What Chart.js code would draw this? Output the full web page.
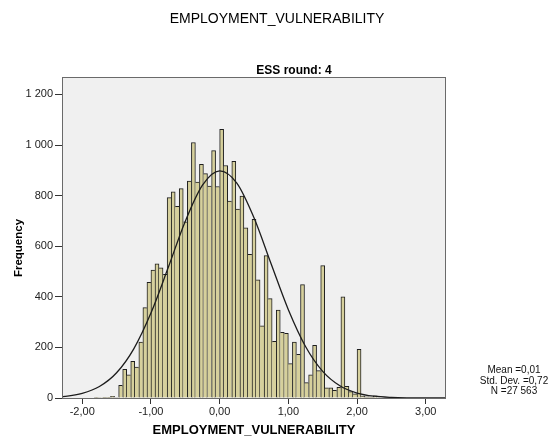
<!DOCTYPE html>
<html>
<head>
<meta charset="utf-8">
<script src="https://cdn.jsdelivr.net/npm/chart.js@4"></script>
<style>
  html, body { margin: 0; padding: 0; background: #ffffff; }
  #wrap { width: 554px; height: 438px; position: relative; }
</style>
</head>
<body>
<div id="wrap"><canvas id="c" width="554" height="438"></canvas></div>
<script>
// ---- Data ----
const chartTitle = "EMPLOYMENT_VULNERABILITY";
const panelTitle = "ESS round: 4";
const xAxisTitle = "EMPLOYMENT_VULNERABILITY";
const yAxisTitle = "Frequency";
const statsLines = ["Mean =0,01", "Std. Dev. =0,72", "N =27 563"];

// histogram bin centres
const binCenters = [
  -1.794, -1.735, -1.676, -1.618, -1.559, -1.500, -1.441, -1.382, -1.324, -1.265,
  -1.206, -1.147, -1.088, -1.029, -0.971, -0.912, -0.853, -0.794, -0.735, -0.676,
  -0.618, -0.559, -0.500, -0.441, -0.382, -0.324, -0.265, -0.206, -0.147, -0.088,
  -0.029, 0.029, 0.088, 0.147, 0.206, 0.265, 0.324, 0.382, 0.441, 0.500,
  0.559, 0.618, 0.676, 0.735, 0.794, 0.853, 0.912, 0.971, 1.029, 1.088,
  1.147, 1.206, 1.265, 1.324, 1.382, 1.441, 1.500, 1.559, 1.618, 1.676,
  1.735, 1.794, 1.853, 1.912, 1.971, 2.029, 2.088, 2.147, 2.206, 2.265,
  2.324
];
// frequencies
const binCounts = [
  3, 2, 1, 1, 7, 2, 50, 113, 92, 145,
  122, 221, 357, 457, 506, 530, 515, 489, 792, 815,
  758, 828, 696, 858, 1010, 854, 924, 887, 838, 978,
  836, 1062, 919, 778, 936, 747, 798, 673, 568, 706,
  467, 285, 563, 393, 224, 348, 260, 256, 136, 221,
  173, 448, 61, 92, 208, 108, 523, 40, 40, 30,
  42, 400, 46, 25, 16, 192, 8, 5, 4, 9,
  2
];

// normal curve points
const curveX = [-2.5, -2.25, -2.0, -1.75, -1.5, -1.25, -1.0, -0.75, -0.5, -0.25, 0.0,
                0.25, 0.5, 0.75, 1.0, 1.25, 1.5, 1.75, 2.0, 2.25, 2.5, 2.75, 3.0, 3.25, 3.5];
const curveY = [2.1, 6.5, 18.2, 45.2, 99.6, 194.3, 335.7, 514.5, 698.8, 841.4, 897.9,
                849.4, 712.4, 529.6, 349.0, 203.8, 105.5, 48.4, 19.7, 7.1, 2.3, 0.6, 0.2, 0.0, 0.0];

const xTickValues = [-2, -1, 0, 1, 2, 3];
const xTickLabels = ["-2,00", "-1,00", "0,00", "1,00", "2,00", "3,00"];
const yTickValues = [0, 200, 400, 600, 800, 1000, 1200];
const yTickLabels = ["0", "200", "400", "600", "800", "1 000", "1 200"];

const xMin = -2.28, xMax = 3.28;
const yMin = 0, yMax = 1265;

// ---- Build ----
const FONT = "'Liberation Sans', Arial, Helvetica, sans-serif";
const barData = binCenters.map((x, i) => ({ x: x, y: binCounts[i] }));
const lineData = curveX.map((x, i) => ({ x: x, y: curveY[i] }));

// shared outline between neighbouring bars: the taller bar owns the edge
function barBorder(c) {
  const i = c.dataIndex;
  const cur = binCounts[i];
  const prev = binCounts[i - 1];
  const next = binCounts[i + 1];
  return {
    top: 1,
    bottom: 0,
    left: (prev === undefined || prev <= cur) ? 1 : 0,
    right: (next === undefined || next < cur) ? 1 : 0
  };
}

const framePlugin = {
  id: 'frame',
  beforeDatasetsDraw(chart) {
    const { ctx, chartArea: a } = chart;
    ctx.save();
    ctx.fillStyle = '#f0f0f0';
    ctx.fillRect(a.left, a.top, a.right - a.left, a.bottom - a.top);
    ctx.restore();
  },
  afterDatasetsDraw(chart) {
    const { ctx, chartArea: a } = chart;
    ctx.save();
    ctx.strokeStyle = '#6a6a6a';
    ctx.lineWidth = 1;
    ctx.strokeRect(Math.round(a.left) - 0.5, Math.round(a.top) - 0.5,
                   Math.round(a.right - a.left) + 1, Math.round(a.bottom - a.top) + 1);
    ctx.restore();
  },
  afterDraw(chart) {
    const { ctx } = chart;
    ctx.save();
    ctx.fillStyle = '#000000';
    ctx.font = "bold 12px " + FONT;
    ctx.textAlign = 'center';
    ctx.textBaseline = 'middle';
    ctx.fillText(panelTitle, 294, 71);
    ctx.save();
    ctx.translate(18.5, 248);
    ctx.rotate(-Math.PI / 2);
    ctx.font = "bold 11.5px " + FONT;
    ctx.fillText(yAxisTitle, 0, 0);
    ctx.restore();
    ctx.font = "10px " + FONT;
    ctx.fillStyle = '#111111';
    statsLines.forEach((t, i) => ctx.fillText(t, 514, 370 + i * 10.8));
    ctx.restore();
  }
};

new Chart(document.getElementById('c'), {
  data: {
    datasets: [
      {
        type: 'line',
        label: 'Normal',
        data: lineData,
        borderColor: '#1c1c1c',
        borderWidth: 1.3,
        pointRadius: 0,
        cubicInterpolationMode: 'monotone',
        fill: false,
        clip: 0,
        order: 0
      },
      {
        type: 'bar',
        label: 'Frequency',
        data: barData,
        backgroundColor: '#d6d09c',
        borderColor: '#1e1e1e',
        borderWidth: barBorder,
        borderSkipped: false,
        barPercentage: 1.0,
        categoryPercentage: 1.0,
        order: 1
      }
    ]
  },
  options: {
    responsive: false,
    animation: false,
    devicePixelRatio: 1,
    layout: { padding: 0 },
    plugins: {
      legend: { display: false },
      tooltip: { enabled: false },
      title: {
        display: true,
        text: chartTitle,
        color: '#000000',
        font: { family: FONT, size: 14, weight: 'normal', lineHeight: 1.2 },
        padding: { top: 11, bottom: 50.2 }
      }
    },
    scales: {
      x: {
        type: 'linear',
        position: 'bottom',
        offset: false,
        min: xMin,
        max: xMax,
        afterBuildTicks: s => { s.ticks = xTickValues.map(v => ({ value: v })); },
        afterFit: s => { s.height = 40; },
        ticks: {
          color: '#222222',
          font: { family: FONT, size: 11 },
          padding: 1,
          maxRotation: 0,
          autoSkip: false,
          callback: (v) => { const i = xTickValues.indexOf(v); return i >= 0 ? xTickLabels[i] : ''; }
        },
        grid: { offset: false, drawOnChartArea: false, drawTicks: true, tickLength: 6, color: '#333333' },
        border: { display: false },
        title: {
          display: true,
          text: xAxisTitle,
          color: '#000000',
          font: { family: FONT, size: 13, weight: 'bold', lineHeight: 1.2 },
          padding: { top: 0, bottom: 0 }
        }
      },
      y: {
        type: 'linear',
        position: 'left',
        min: yMin,
        max: yMax,
        afterBuildTicks: s => { s.ticks = yTickValues.map(v => ({ value: v })); },
        afterFit: s => { s.width = 63; },
        ticks: {
          color: '#222222',
          font: { family: FONT, size: 11 },
          padding: 2,
          autoSkip: false,
          callback: (v) => { const i = yTickValues.indexOf(v); return i >= 0 ? yTickLabels[i] : ''; }
        },
        grid: { drawOnChartArea: false, drawTicks: true, tickLength: 8, color: '#333333' },
        border: { display: false },
        title: { display: false }
      },
      yRight: {
        type: 'linear',
        position: 'right',
        display: true,
        afterFit: s => { s.width = 109; },
        ticks: { display: false },
        grid: { display: false, drawTicks: false },
        border: { display: false },
        title: { display: false }
      }
    }
  },
  plugins: [framePlugin]
});
</script>
</body>
</html>
